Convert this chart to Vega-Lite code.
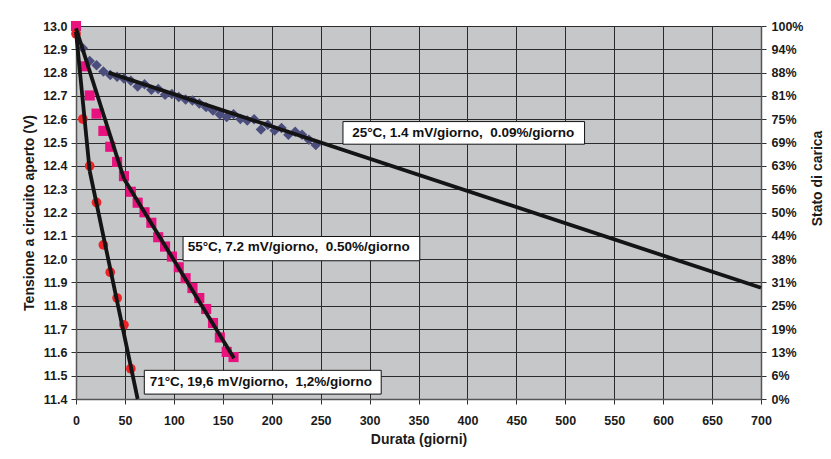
{
  "$schema": "https://vega.github.io/schema/vega-lite/v6.json",
  "width": 685,
  "height": 373,
  "autosize": {"type": "none"},
  "padding": {"left": 76, "top": 26, "right": 70, "bottom": 60},
  "background": "white",
  "config": {
    "view": {"fill": "#c6c7c9", "stroke": null},
    "font": "Liberation Sans",
    "axis": {
      "labelFont": "Liberation Sans",
      "titleFont": "Liberation Sans",
      "labelColor": "#1a1a1a",
      "titleColor": "#1a1a1a",
      "labelFontSize": 12.5,
      "labelFontWeight": "bold",
      "titleFontSize": 14,
      "titleFontWeight": "bold",
      "tickSize": 5,
      "tickColor": "#333333",
      "domainColor": "#555555",
      "domainWidth": 1.5,
      "gridColor": "#2b2b2b",
      "gridWidth": 1,
      "gridOpacity": 1,
      "labelOverlap": false
    }
  },
  "datasets": {
    "pts": [
      {"s": "25°C", "d": 7, "v": 12.905},
      {"s": "25°C", "d": 14, "v": 12.85},
      {"s": "25°C", "d": 21, "v": 12.832},
      {"s": "25°C", "d": 28, "v": 12.805},
      {"s": "25°C", "d": 35, "v": 12.79},
      {"s": "25°C", "d": 42, "v": 12.782},
      {"s": "25°C", "d": 49, "v": 12.775},
      {"s": "25°C", "d": 56, "v": 12.765},
      {"s": "25°C", "d": 63, "v": 12.74},
      {"s": "25°C", "d": 70, "v": 12.75},
      {"s": "25°C", "d": 77, "v": 12.727},
      {"s": "25°C", "d": 84, "v": 12.73},
      {"s": "25°C", "d": 91, "v": 12.705},
      {"s": "25°C", "d": 98, "v": 12.708},
      {"s": "25°C", "d": 105, "v": 12.695},
      {"s": "25°C", "d": 112, "v": 12.685},
      {"s": "25°C", "d": 119, "v": 12.68},
      {"s": "25°C", "d": 126, "v": 12.668},
      {"s": "25°C", "d": 133, "v": 12.652},
      {"s": "25°C", "d": 140, "v": 12.638},
      {"s": "25°C", "d": 147, "v": 12.62},
      {"s": "25°C", "d": 154, "v": 12.61},
      {"s": "25°C", "d": 161, "v": 12.622},
      {"s": "25°C", "d": 168, "v": 12.601},
      {"s": "25°C", "d": 175, "v": 12.595},
      {"s": "25°C", "d": 182, "v": 12.6},
      {"s": "25°C", "d": 189, "v": 12.556},
      {"s": "25°C", "d": 196, "v": 12.576},
      {"s": "25°C", "d": 203, "v": 12.552},
      {"s": "25°C", "d": 210, "v": 12.562},
      {"s": "25°C", "d": 217, "v": 12.533},
      {"s": "25°C", "d": 224, "v": 12.546},
      {"s": "25°C", "d": 231, "v": 12.534},
      {"s": "25°C", "d": 238, "v": 12.512},
      {"s": "25°C", "d": 245, "v": 12.49},
      {"s": "55°C", "d": 0, "v": 13.0},
      {"s": "55°C", "d": 7, "v": 12.827},
      {"s": "55°C", "d": 14, "v": 12.702},
      {"s": "55°C", "d": 21, "v": 12.624},
      {"s": "55°C", "d": 28, "v": 12.55},
      {"s": "55°C", "d": 35, "v": 12.482},
      {"s": "55°C", "d": 42, "v": 12.417},
      {"s": "55°C", "d": 49, "v": 12.356},
      {"s": "55°C", "d": 56, "v": 12.289},
      {"s": "55°C", "d": 63, "v": 12.242},
      {"s": "55°C", "d": 70, "v": 12.201},
      {"s": "55°C", "d": 77, "v": 12.156},
      {"s": "55°C", "d": 84, "v": 12.094},
      {"s": "55°C", "d": 91, "v": 12.054},
      {"s": "55°C", "d": 98, "v": 12.011},
      {"s": "55°C", "d": 105, "v": 11.965},
      {"s": "55°C", "d": 112, "v": 11.918},
      {"s": "55°C", "d": 119, "v": 11.876},
      {"s": "55°C", "d": 126, "v": 11.833},
      {"s": "55°C", "d": 133, "v": 11.786},
      {"s": "55°C", "d": 140, "v": 11.726},
      {"s": "55°C", "d": 147, "v": 11.664},
      {"s": "55°C", "d": 154, "v": 11.602},
      {"s": "55°C", "d": 161, "v": 11.58},
      {"s": "71°C", "d": 0, "v": 12.967},
      {"s": "71°C", "d": 7, "v": 12.601},
      {"s": "71°C", "d": 14, "v": 12.4},
      {"s": "71°C", "d": 21, "v": 12.243},
      {"s": "71°C", "d": 28, "v": 12.061},
      {"s": "71°C", "d": 35, "v": 11.944},
      {"s": "71°C", "d": 42, "v": 11.833},
      {"s": "71°C", "d": 49, "v": 11.718},
      {"s": "71°C", "d": 56, "v": 11.53}
    ],
    "lines": [
      {"g": "25", "d": 33.3, "v": 12.8},
      {"g": "25", "d": 700, "v": 11.877},
      {"g": "55a", "d": 0, "v": 12.99},
      {"g": "55a", "d": 49, "v": 12.345},
      {"g": "55b", "d": 49, "v": 12.345},
      {"g": "55b", "d": 161.5, "v": 11.575},
      {"g": "71a", "d": 0, "v": 12.975},
      {"g": "71a", "d": 14, "v": 12.378},
      {"g": "71b", "d": 14, "v": 12.378},
      {"g": "71b", "d": 63, "v": 11.4}
    ],
    "notes": [
      {"t": "25°C, 1.4 mV/giorno, \u00a00.09%/giorno", "tx": 282.2, "ty": 12.543, "x1": 272.8, "x2": 519.7, "y1": 12.59, "y2": 12.493},
      {"t": "55°C, 7.2 mV/giorno, \u00a00.50%/giorno", "tx": 114.1, "ty": 12.05, "x1": 109.4, "x2": 351.3, "y1": 12.097, "y2": 11.993},
      {"t": "71°C, 19,6 mV/giorno, \u00a01,2%/giorno", "tx": 75.3, "ty": 11.474, "x1": 69.8, "x2": 311.9, "y1": 11.523, "y2": 11.421}
    ]
  },
  "layer": [
    {
      "layer": [
        {
          "data": {"name": "pts"},
          "mark": {"type": "point", "filled": true, "opacity": 1},
          "encoding": {
            "x": {
              "field": "d", "type": "quantitative",
              "scale": {"domain": [0, 700], "nice": false, "zero": false},
              "axis": {
                "values": [0, 50, 100, 150, 200, 250, 300, 350, 400, 450, 500, 550, 600, 650, 700],
                "title": "Durata (giorni)",
                "grid": true,
                "labelPadding": 10,
                "titlePadding": 6,
                "labelFlush": false
              }
            },
            "y": {
              "field": "v", "type": "quantitative",
              "scale": {"domain": [11.4, 13.0], "nice": false, "zero": false},
              "axis": {
                "orient": "left",
                "values": [11.4, 11.5, 11.6, 11.7, 11.8, 11.9, 12.0, 12.1, 12.2, 12.3, 12.4, 12.5, 12.6, 12.7, 12.8, 12.9, 13.0],
                "format": ".1f",
                "title": "Tensione a circuito aperto (V)",
                "grid": true,
                "labelPadding": 4,
                "titlePadding": 6,
                "labelFlush": false
              }
            },
            "shape": {
              "field": "s", "type": "nominal",
              "scale": {"domain": ["25°C", "55°C", "71°C"], "range": ["diamond", "square", "circle"]},
              "legend": null
            },
            "size": {
              "field": "s", "type": "nominal",
              "scale": {"domain": ["25°C", "55°C", "71°C"], "range": [110, 95, 85]},
              "legend": null
            },
            "color": {
              "field": "s", "type": "nominal",
              "scale": {"domain": ["25°C", "55°C", "71°C"], "range": ["#4b4e7d", "#e8127f", "#ee2226"]},
              "legend": null
            }
          }
        },
        {
          "data": {"name": "lines"},
          "mark": {"type": "line", "color": "#141414", "strokeWidth": 3.8},
          "encoding": {
            "x": {"field": "d", "type": "quantitative"},
            "y": {
              "field": "v", "type": "quantitative",
              "axis": {
                "orient": "left",
                "values": [11.4, 11.5, 11.6, 11.7, 11.8, 11.9, 12.0, 12.1, 12.2, 12.3, 12.4, 12.5, 12.6, 12.7, 12.8, 12.9, 13.0],
                "format": ".1f",
                "title": "Tensione a circuito aperto (V)",
                "grid": true,
                "labelPadding": 4,
                "titlePadding": 6,
                "labelFlush": false
              }
            },
            "detail": {"field": "g", "type": "nominal"}
          }
        },
        {
          "data": {"name": "notes"},
          "mark": {"type": "rect", "fill": "white", "stroke": "#111111", "strokeWidth": 1},
          "encoding": {
            "x": {"field": "x1", "type": "quantitative"},
            "x2": {"field": "x2"},
            "y": {
              "field": "y1", "type": "quantitative",
              "axis": {
                "orient": "left",
                "values": [11.4, 11.5, 11.6, 11.7, 11.8, 11.9, 12.0, 12.1, 12.2, 12.3, 12.4, 12.5, 12.6, 12.7, 12.8, 12.9, 13.0],
                "format": ".1f",
                "title": "Tensione a circuito aperto (V)",
                "grid": true,
                "labelPadding": 4,
                "titlePadding": 6,
                "labelFlush": false
              }
            },
            "y2": {"field": "y2"}
          }
        },
        {
          "data": {"name": "notes"},
          "mark": {"type": "text", "align": "left", "baseline": "middle", "fontSize": 13.5, "fontWeight": "bold", "font": "Liberation Sans", "color": "#111111"},
          "encoding": {
            "x": {"field": "tx", "type": "quantitative"},
            "y": {
              "field": "ty", "type": "quantitative",
              "axis": {
                "orient": "left",
                "values": [11.4, 11.5, 11.6, 11.7, 11.8, 11.9, 12.0, 12.1, 12.2, 12.3, 12.4, 12.5, 12.6, 12.7, 12.8, 12.9, 13.0],
                "format": ".1f",
                "title": "Tensione a circuito aperto (V)",
                "grid": true,
                "labelPadding": 4,
                "titlePadding": 6,
                "labelFlush": false
              }
            },
            "text": {"field": "t"}
          }
        }
      ]
    },
    {
      "data": {"name": "lines"},
      "mark": {"type": "line", "strokeOpacity": 0},
      "encoding": {
        "x": {"field": "d", "type": "quantitative"},
        "y": {
          "field": "v", "type": "quantitative",
          "scale": {"domain": [11.4, 13.0], "nice": false, "zero": false},
          "axis": {
            "orient": "right",
            "values": [11.4, 11.5, 11.6, 11.7, 11.8, 11.9, 12.0, 12.1, 12.2, 12.3, 12.4, 12.5, 12.6, 12.7, 12.8, 12.9, 13.0],
            "labelExpr": "format((datum.value - 11.4) / 1.6 * 100 + 0.001, '.0f') + '%'",
            "title": "Stato di carica",
            "titleAngle": -90,
            "titleBaseline": "top",
            "titleY": 152,
            "titlePadding": 8,
            "grid": false,
            "labelPadding": 5,
            "labelFlush": false
          }
        },
        "detail": {"field": "g", "type": "nominal"}
      }
    }
  ],
  "resolve": {"scale": {"y": "independent"}}
}
